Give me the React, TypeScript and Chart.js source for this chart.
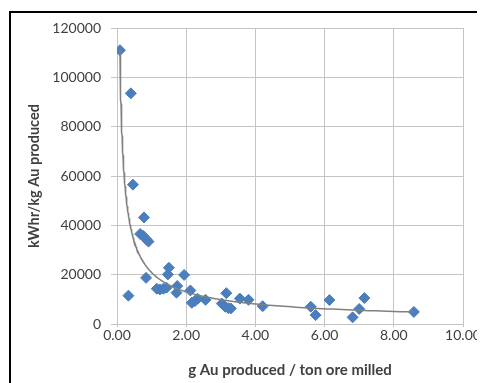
import React, { useEffect, useRef } from "react";
import { Chart, registerables } from "chart.js";

Chart.register(...registerables);

// g Au produced / ton ore milled
const gradeX: number[] = [
  0.085, 0.40, 0.46, 0.78, 0.67, 0.76, 0.85, 0.91, 0.84, 0.33,
  1.50, 1.47, 1.94, 1.15, 1.24, 1.34, 1.43, 1.74, 1.72, 2.12,
  2.16, 2.25, 2.33, 2.56, 3.03, 3.13, 3.22, 3.29, 3.16, 3.55,
  3.80, 4.21, 5.60, 5.74, 6.14, 6.81, 7.00, 7.15, 8.58,
];
// kWhr/kg Au produced
const energyY: number[] = [
  111000, 93500, 56500, 43200, 36500, 35700, 34300, 33400, 18700, 11500,
  22800, 20100, 19900, 14300, 14000, 14300, 14700, 15400, 12700, 13600,
  8600, 9300, 10200, 9800, 8300, 7000, 6400, 6300, 12500, 10300,
  9800, 7200, 7000, 3600, 9700, 2700, 6100, 10500, 4900,
];

// Power trendline y = a * x^b, coefficients
const trendCoef = 20850;
const trendExp = -0.679;

const xTicks: number[] = [0, 2, 4, 6, 8, 10];
const yTicks: number[] = [0, 20000, 40000, 60000, 80000, 100000, 120000];

const xTitle = "g Au produced / ton ore milled";
const yTitle = "kWhr/kg Au produced";

function trendPoints(xs: number[]) {
  const xmin = Math.min(...xs);
  const xmax = Math.max(...xs);
  const pts: { x: number; y: number }[] = [];
  const steps = 200;
  for (let i = 0; i <= steps; i++) {
    const x = xmin * Math.pow(xmax / xmin, i / steps);
    pts.push({ x, y: trendCoef * Math.pow(x, trendExp) });
  }
  return pts;
}

export default function App() {
  const ref = useRef<HTMLCanvasElement | null>(null);

  useEffect(() => {
    if (!ref.current) return;
    const points = gradeX.map((x, i) => ({ x, y: energyY[i] }));
    const trend = trendPoints(gradeX);
    const font = "Lato, 'Open Sans', sans-serif";
    const chart = new Chart(ref.current, {
      type: "scatter",
      data: {
        datasets: [
          {
            type: "line",
            data: trend,
            borderColor: "#808080",
            borderWidth: 1.5,
            pointRadius: 0,
            fill: false,
            tension: 0,
            order: 0,
          } as any,
          {
            data: points,
            pointStyle: "rectRot",
            pointRadius: 5.5,
            backgroundColor: "#4A7EBD",
            borderColor: "#4A7EBD",
            borderWidth: 1,
            order: 1,
          },
        ],
      },
      options: {
        responsive: false,
        animation: false,
        layout: { padding: { left: 0, right: 22, top: 20, bottom: 0 } },
        plugins: {
          legend: { display: false },
          tooltip: { enabled: false },
        },
        scales: {
          x: {
            type: "linear",
            min: 0,
            max: 10,
            afterBuildTicks: (s: any) => {
              s.ticks = xTicks.map((v) => ({ value: v }));
            },
            afterFit: (s: any) => {
              s.height = 59;
            },
            ticks: {
              callback: (v: any) => Number(v).toFixed(2),
              color: "#404040",
              font: { family: font, size: 14 },
              padding: 0,
              maxRotation: 0,
            },
            grid: { color: "#c4c4c4", lineWidth: 1, tickLength: 3 },
            border: { color: "#c4c4c4", width: 1 },
            title: {
              display: true,
              text: xTitle,
              color: "#404040",
              font: { family: font, size: 15, weight: "bold" },
              padding: { top: 6, bottom: 4 },
            },
          },
          y: {
            type: "linear",
            min: 0,
            max: 120000,
            afterBuildTicks: (s: any) => {
              s.ticks = yTicks.map((v) => ({ value: v }));
            },
            afterFit: (s: any) => {
              s.width = 109;
            },
            ticks: {
              callback: (v: any) => String(v),
              color: "#404040",
              font: { family: font, size: 14 },
              padding: 10,
            },
            grid: { color: "#c4c4c4", lineWidth: 1, tickLength: 6 },
            border: { color: "#c4c4c4", width: 1 },
            title: {
              display: true,
              text: yTitle,
              color: "#404040",
              font: { family: font, size: 14.5, weight: "bold" },
              padding: { top: 18, bottom: 0 },
            },
          },
        },
      },
    });
    return () => chart.destroy();
  }, []);

  return (
    <div
      style={{
        position: "relative",
        width: 477,
        height: 375,
        overflow: "hidden",
        background: "#fff",
      }}
    >
      <div
        style={{
          position: "absolute",
          left: 1,
          top: 3,
          width: 520,
          height: 420,
          border: "2px solid #000",
          boxSizing: "border-box",
        }}
      />
      <canvas
        ref={ref}
        width={477}
        height={375}
        style={{ position: "absolute", left: 0, top: 0, width: 477, height: 375 }}
      />
    </div>
  );
}
